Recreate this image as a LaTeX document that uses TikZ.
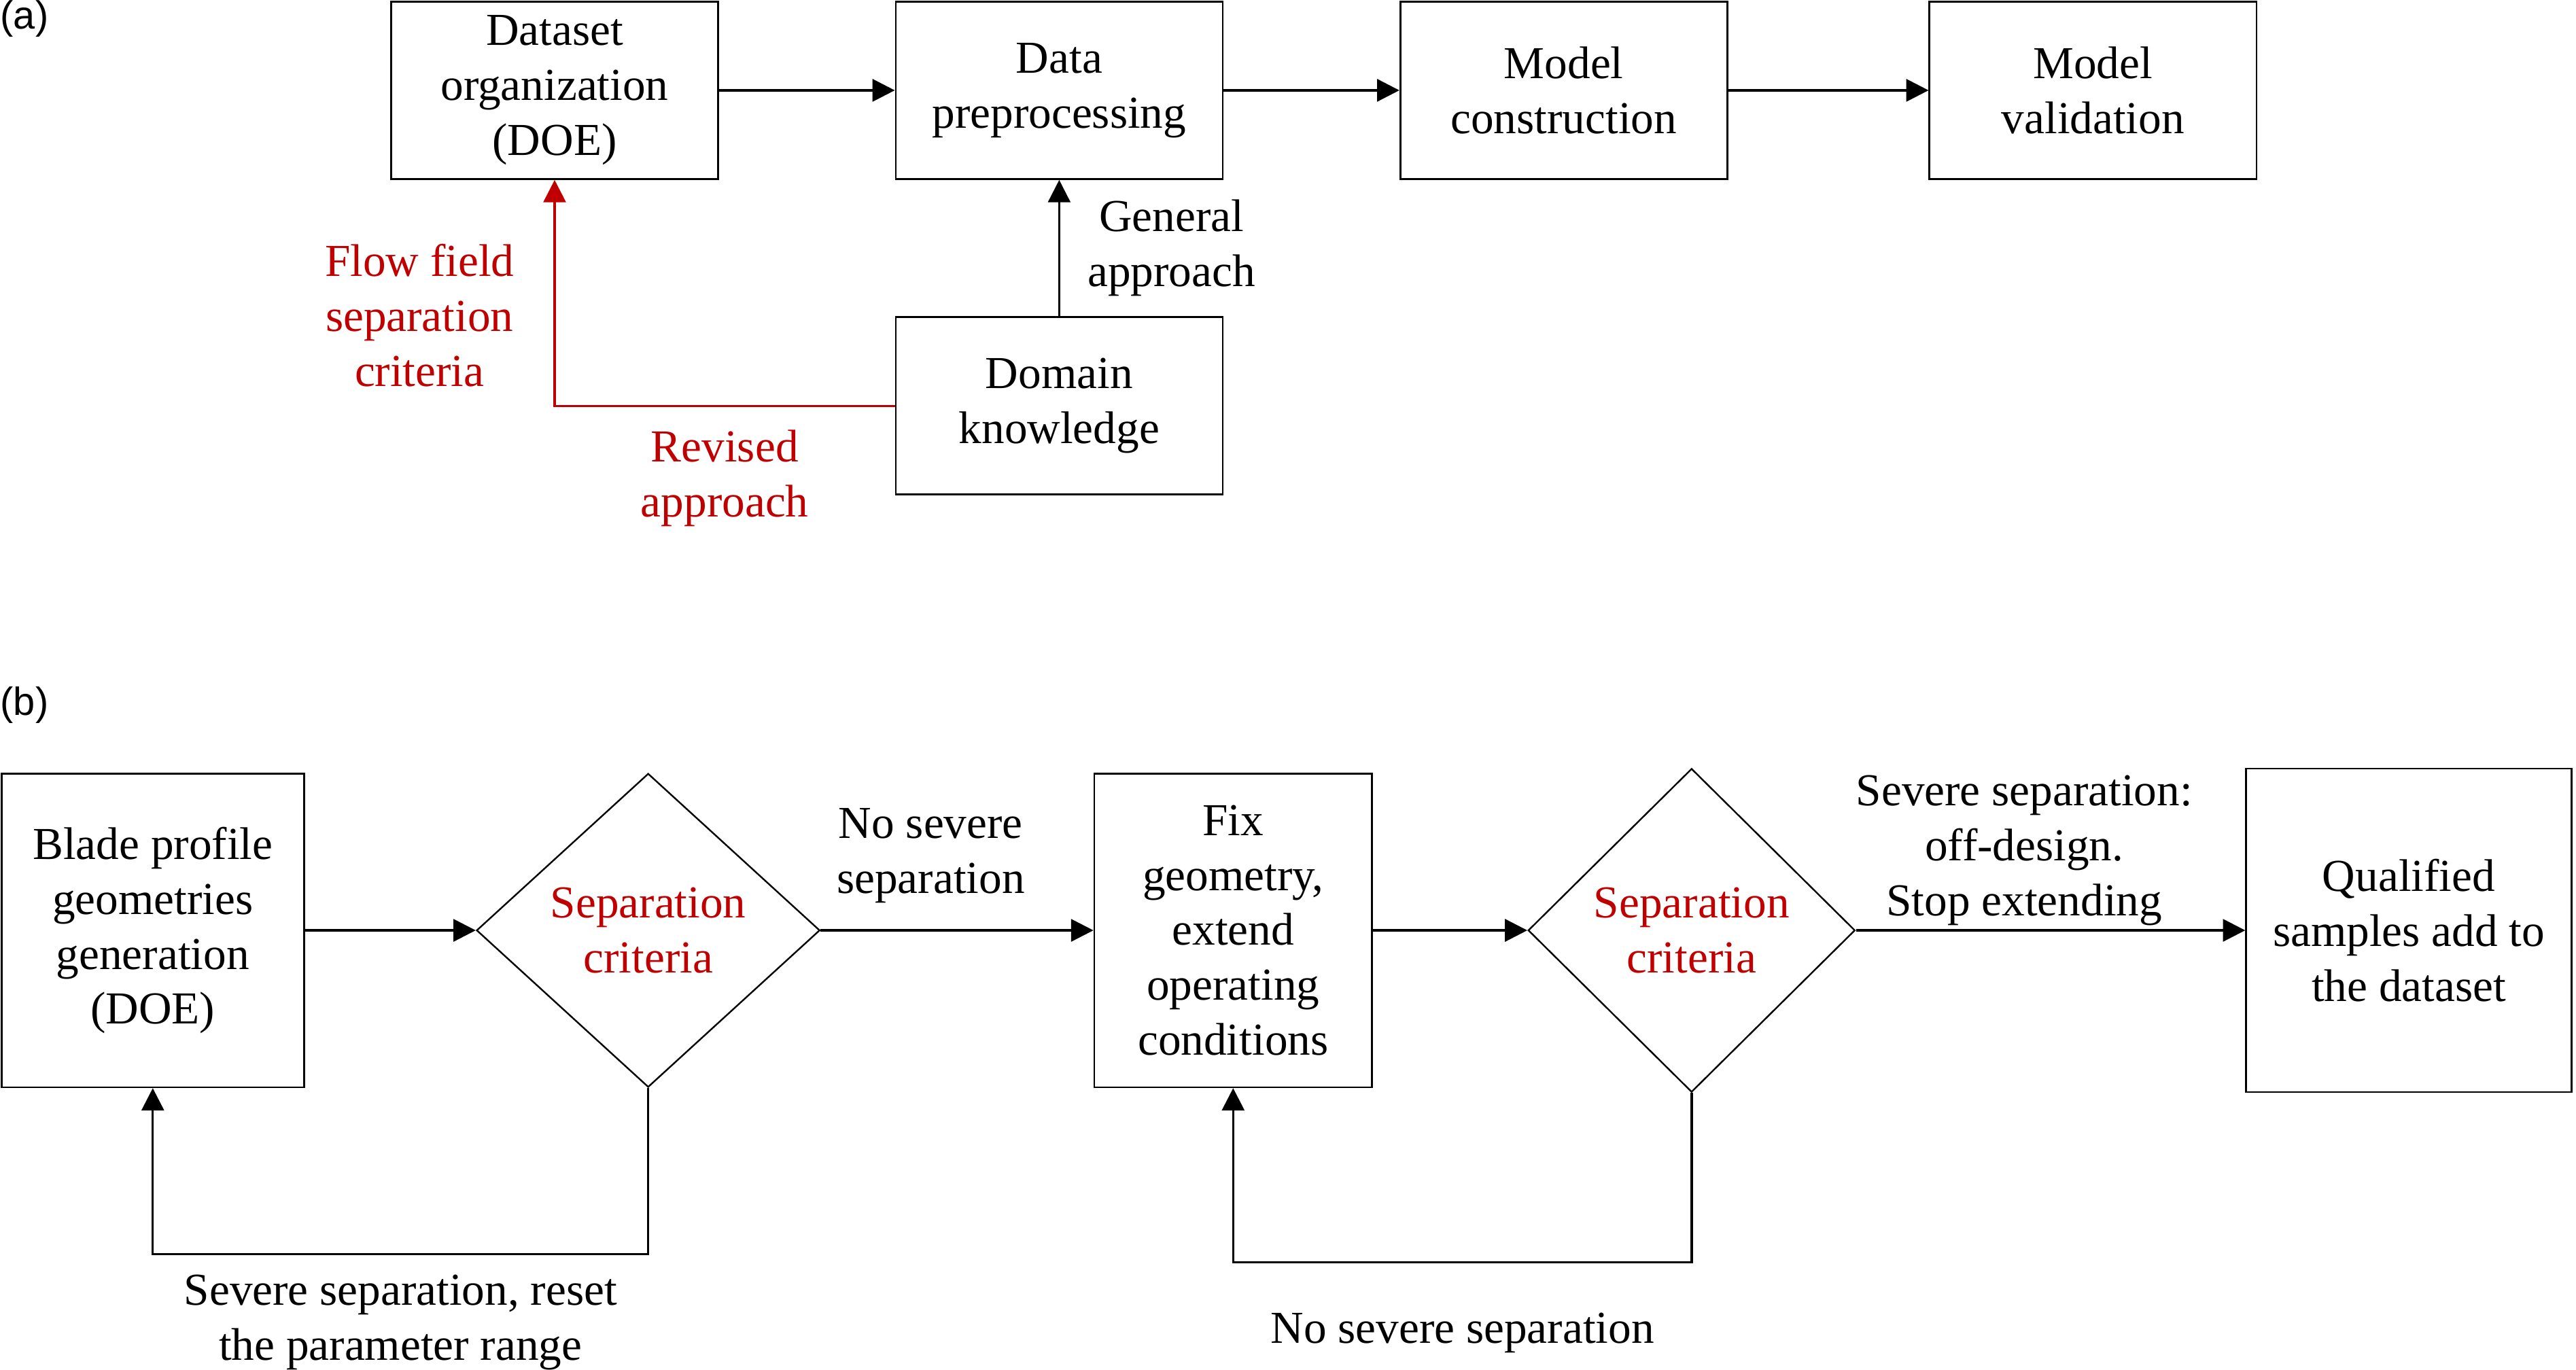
\documentclass[tikz,border=0pt]{standalone}
\usepackage{fontspec}
\setmainfont{Liberation Serif}
\newfontfamily\panelfont{Liberation Sans}
\usetikzlibrary{shapes.geometric,arrows.meta,positioning,calc}
\definecolor{sepred}{HTML}{C00000}
\tikzset{
  box style/.style={rectangle, draw, line width=0.8pt, align=center, inner sep=0pt,
    font=\fontsize{19.8}{23.8}\selectfont},
  dia style/.style={diamond, draw, line width=0.7pt, align=center, inner sep=0pt,
    text=sepred, font=\fontsize{19.8}{23.8}\selectfont},
  arr style/.style={-{Triangle[length=3.4mm, width=3.4mm]}, line width=1pt},
  lbl style/.style={align=center, inner sep=0pt, font=\fontsize{19.8}{23.8}\selectfont},
  tag style/.style={anchor=north west, inner sep=0pt, font=\panelfont\fontsize{17}{20}\selectfont}
}
\begin{document}
\begin{tikzpicture}
\useasboundingbox (0,0) rectangle (39.2,-20.85);
\node[tag style] (ta) at (0,0) {(a)};
\node[box style, minimum width=4.975cm, minimum height=2.7cm] (n1) at (8.44,-1.375)
  {Dataset\\organization\\(DOE)};
\node[box style, minimum width=4.975cm, minimum height=2.7cm, right=2.675cm of n1] (n2)
  {Data\\preprocessing};
\node[box style, minimum width=4.975cm, minimum height=2.7cm, right=2.675cm of n2] (n3)
  {Model\\construction};
\node[box style, minimum width=4.975cm, minimum height=2.7cm, right=3.05cm of n3] (n4)
  {Model\\validation};
\node[box style, minimum width=4.975cm, minimum height=2.7cm, below=2.075cm of n2] (n5)
  {Domain\\knowledge};
\draw[arr style] (n1)--(n2);
\draw[arr style] (n2)--(n3);
\draw[arr style] (n3)--(n4);
\draw[arr style, line width=0.8pt] (n5)--(n2) node[lbl style, midway, right=4.2mm] {General\\approach};
\draw[arr style, sepred, line width=0.9pt] (n5.west) -|
  node[lbl style, pos=0.25, below=3.5mm, text=sepred] {Revised\\approach}
  node[lbl style, pos=0.7, left=6mm, text=sepred] {Flow field\\separation\\criteria} (n1.south);

\node[tag style] (tb) at (0,-10.45) {(b)};
\node[box style, minimum width=4.6cm, minimum height=4.775cm] (b1) at (2.325,-14.16)
  {Blade profile\\geometries\\generation\\(DOE)};
\node[dia style, minimum width=5.225cm, minimum height=4.775cm, right=2.6cm of b1] (b2)
  {Separation\\criteria};
\node[box style, minimum width=4.225cm, minimum height=4.775cm, right=4.15cm of b2] (b3)
  {Fix\\geometry,\\extend\\operating\\conditions};
\node[dia style, minimum width=4.975cm, minimum height=4.925cm, right=2.35cm of b3] (b4)
  {Separation\\criteria};
\node[box style, minimum width=4.95cm, minimum height=4.925cm, right=5.925cm of b4] (b5)
  {Qualified\\samples add to\\the dataset};
\draw[arr style] (b1)--(b2);
\draw[arr style] (b2)--(b3) node[lbl style, midway, above=4mm, xshift=-4mm] {No severe\\separation};
\draw[arr style] (b3)--(b4);
\draw[arr style] (b4)--(b5) node[lbl style, midway, above=0.6mm, xshift=-4mm]
  {Severe separation:\\off-design.\\Stop extending};
\draw[arr style] (b2.south) -- ++(0,-2.525) -|
  node[lbl style, pos=0.25, below=3mm] {Severe separation, reset\\the parameter range} (b1.south);
\draw[arr style] (b4.south) -- ++(0,-2.575) -|
  node[lbl style, pos=0.25, below=7.5mm] {No severe separation} (b3.south);
\end{tikzpicture}
\end{document}
